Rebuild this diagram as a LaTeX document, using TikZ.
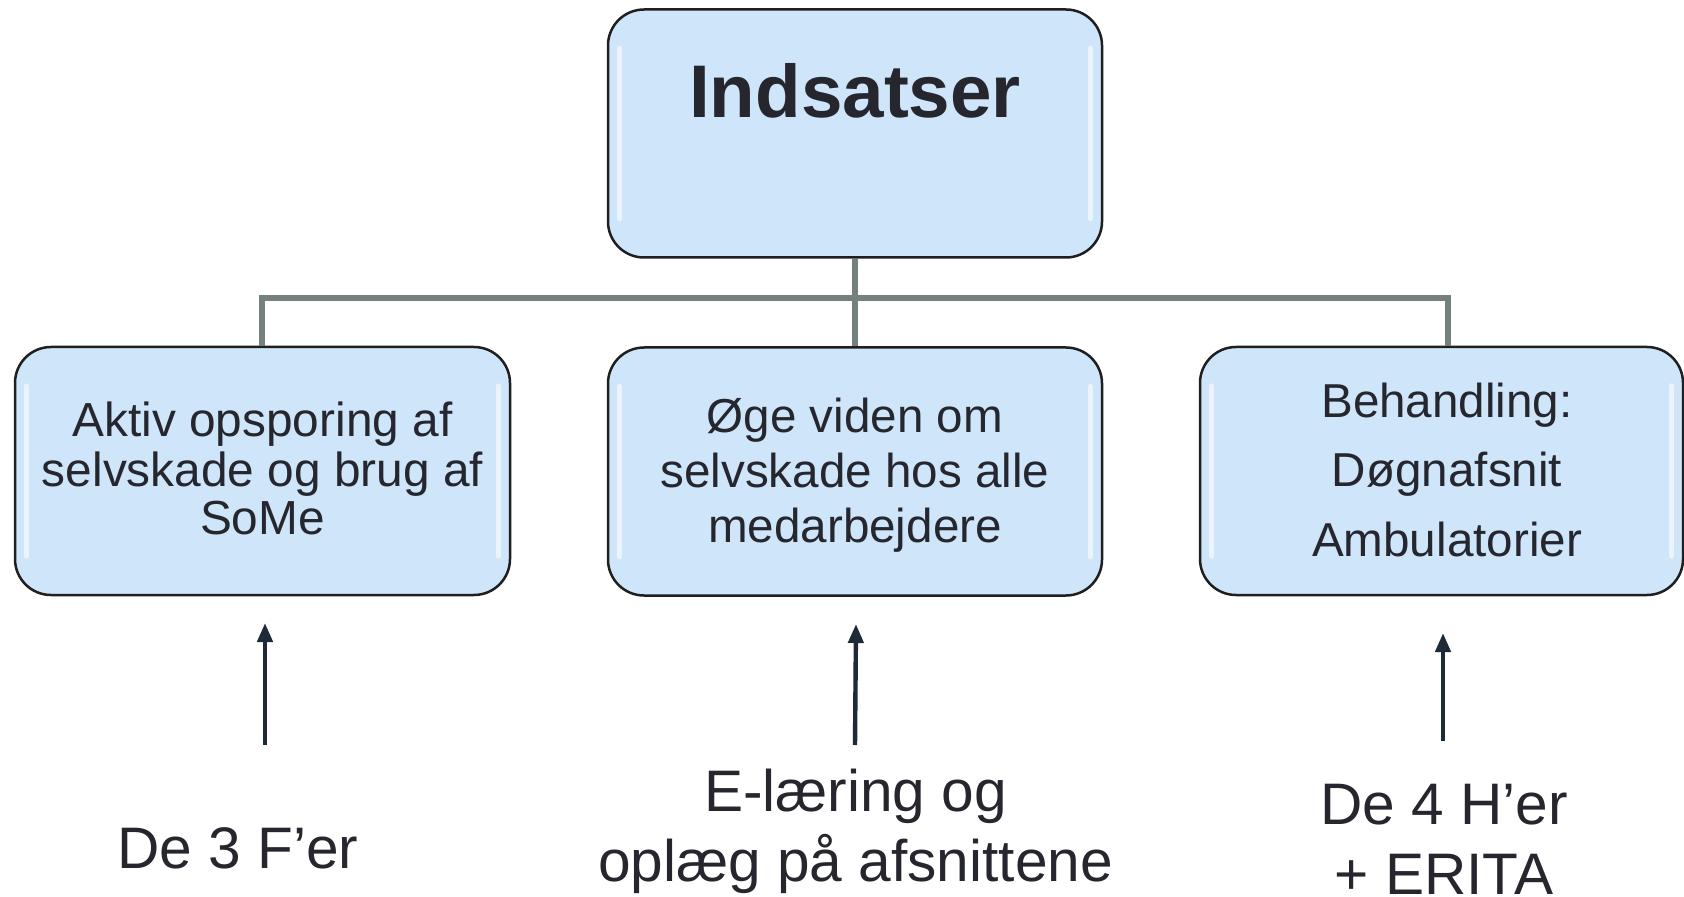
\documentclass[tikz,border=0pt]{standalone}
\usepackage{fontspec}
\setmainfont{Liberation Sans}
\usetikzlibrary{arrows.meta}
\definecolor{boxblue}{HTML}{CFE5FA}
\definecolor{txtdark}{HTML}{26262F}
\definecolor{connGray}{HTML}{75817D}
\definecolor{arrDark}{HTML}{1E2A38}
\newcommand{\mylines}[1]{\begin{tabular}[t]{@{}c@{}}#1\end{tabular}}
\tikzset{
  box/.style={draw=black!88, line width=1.25pt, fill=boxblue, rounded corners=18pt,
    minimum width=247pt, minimum height=124pt, inner sep=0pt},
  conn/.style={draw=connGray, line width=2.6pt},
  arr/.style={draw=arrDark, line width=2.2pt, -{Triangle[width=7.5pt,length=9.5pt]}},
  gloss/.style={draw=white, line width=2.4pt, opacity=0.6, line cap=round},
  txt/.style={inner sep=0pt, anchor=base, text=txtdark},
  boxtxt/.style={txt},
}
\begin{document}
\begin{tikzpicture}[x=0.5pt, y=-0.5pt]
\useasboundingbox (0,0) rectangle (1684,897);
% boxes
\node[box] (top) at (855,133.5) {};
\node[box, minimum width=247.5pt] (left) at (262.5,471) {};
\node[box] (mid) at (855,471.5) {};
\node[box, minimum width=241.5pt] (right) at (1441.5,471) {};
% gloss highlights
\foreach \b in {top,left,mid,right}{
  \draw[gloss] ([xshift=6.5pt,yshift=-20pt]\b.north west) -- ([xshift=6.5pt,yshift=20pt]\b.south west);
  \draw[gloss] ([xshift=-6.5pt,yshift=-20pt]\b.north east) -- ([xshift=-6.5pt,yshift=20pt]\b.south east);
}
% connectors
\coordinate (busL) at (262,298);
\coordinate (busR) at (1448,298);
\draw[conn] (top.south) -- (top.south |- busL);
\draw[conn, line cap=rect] (busL) -- (busR);
\draw[conn] (busL) -- (busL |- left.north);
\draw[conn] (top.south |- busL) -- (mid.north);
\draw[conn] (busR) -- (busR |- right.north);
% texts
\node[txt, font=\fontsize{37.3}{40}\selectfont\bfseries] (ttop) at (855,118) {Indsatser};
\node[boxtxt] (tleft) at (262.5,437) {\fontsize{23.9}{24.25}\selectfont\mylines{Aktiv opsporing af\\selvskade og brug af\\SoMe}};
\node[boxtxt] (tmid) at (855,433) {\fontsize{23.8}{27.5}\selectfont\mylines{Øge viden om\\selvskade hos alle\\medarbejdere}};
\node[boxtxt] (tright) at (1447,417) {\fontsize{23.8}{34.75}\selectfont\mylines{Behandling:\\Døgnafsnit\\Ambulatorier}};
% bottom texts
\node[txt, font=\fontsize{29.3}{35}\selectfont] (b1) at (238,868) {De 3 F’er};
\node[txt, font=\fontsize{29.3}{35}\selectfont] (b2) at (855.5,811) {\mylines{E-læring og\\oplæg på afsnittene}};
\node[txt, font=\fontsize{29.3}{35}\selectfont] (b3) at (1444,824) {\mylines{De 4 H’er\\+ ERITA}};
% arrows
\coordinate (a1s) at (265,745); \coordinate (a1e) at (265,623);
\coordinate (a2s) at (855,745); \coordinate (a2e) at (856,624);
\coordinate (a3s) at (1443,741); \coordinate (a3e) at (1443,633);
\draw[arr] (a1s) -- (a1e);
\draw[arr] (a2s) -- (a2e);
\draw[arr] (a3s) -- (a3e);
\end{tikzpicture}
\end{document}
